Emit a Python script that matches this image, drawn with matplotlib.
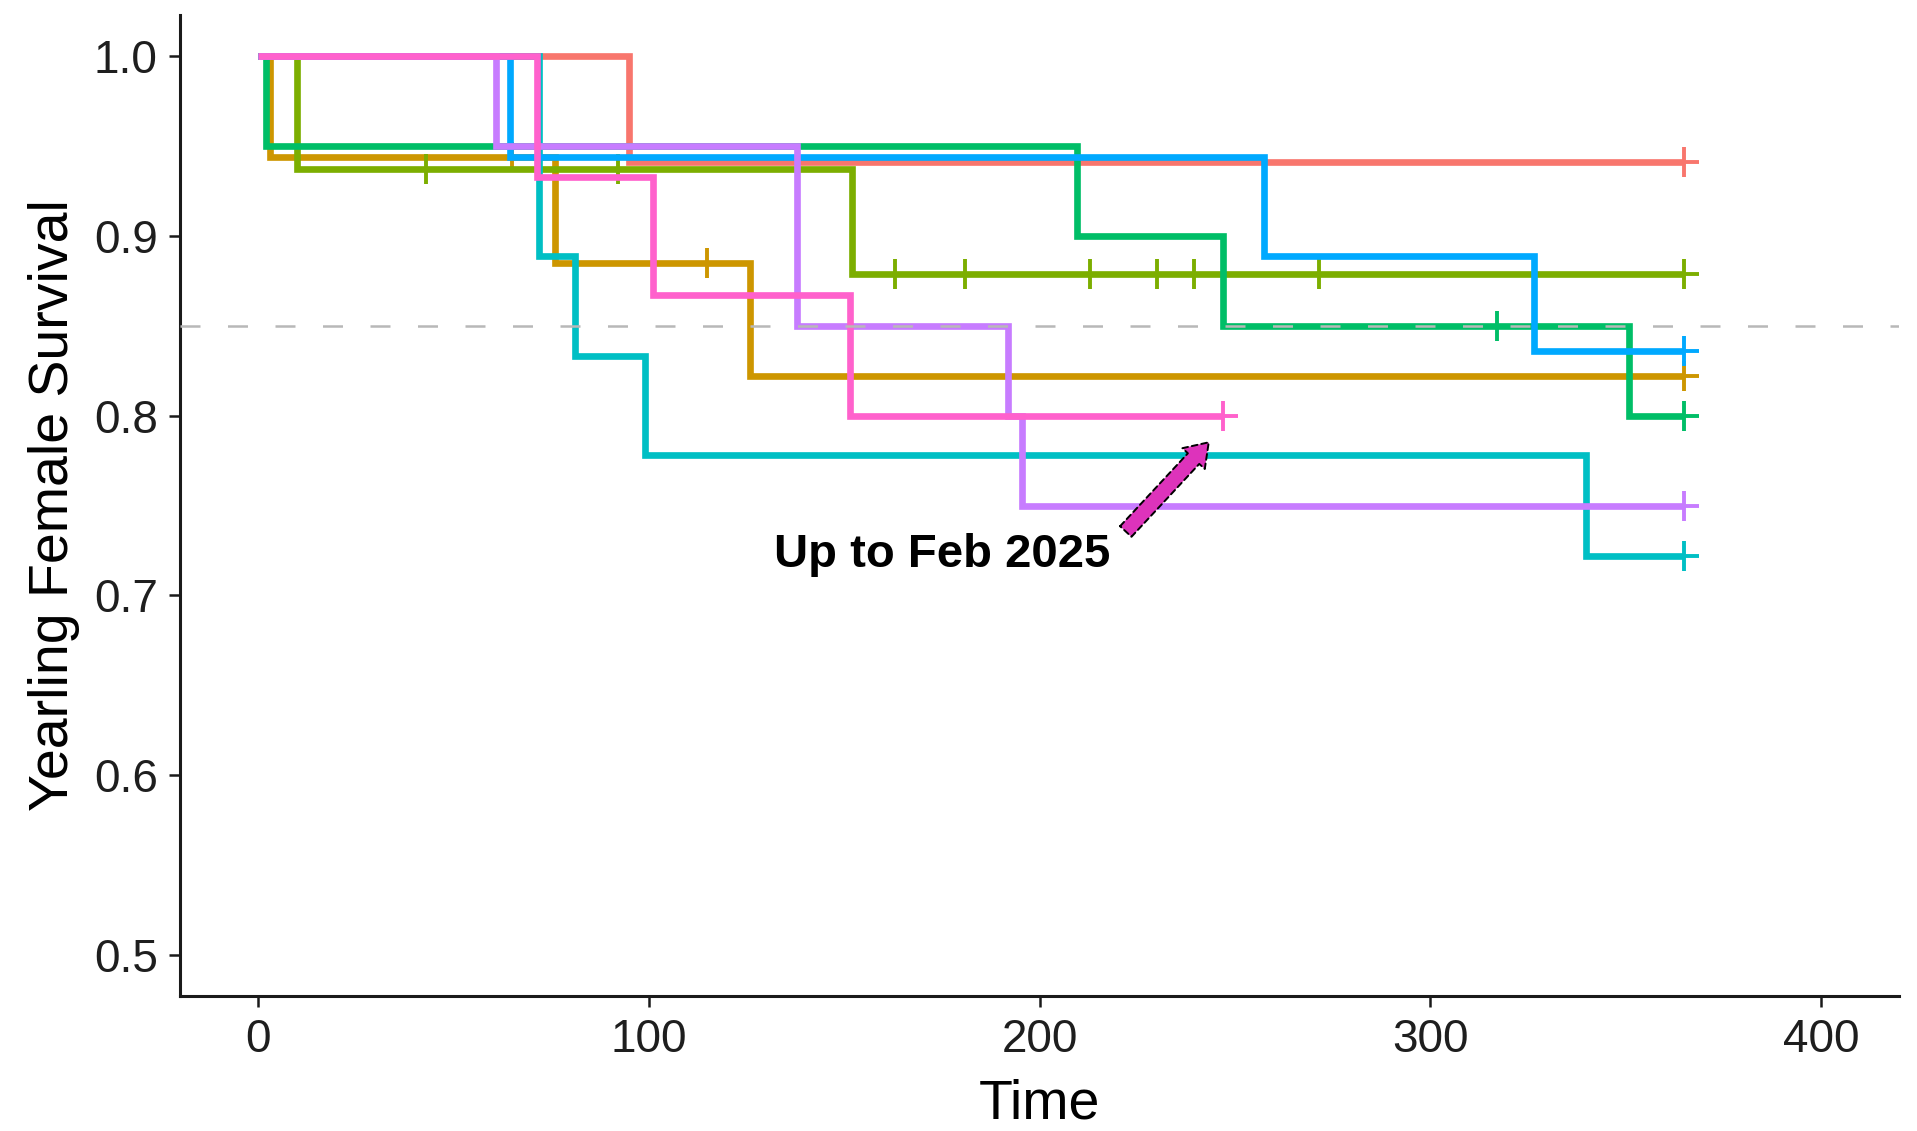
import matplotlib
matplotlib.use("Agg")
import matplotlib.pyplot as plt
from matplotlib.patches import FancyArrowPatch

plt.rcParams['font.family'] = ['Liberation Sans', 'DejaVu Sans']

# ---- data ----
group_colors = ['#F8766D', '#CD9600', '#7CAE00', '#00BE67',
                '#00BFC4', '#00A9FF', '#C77CFF', '#FF61CC']

red_times = [0, 95]
red_surv = [1.0, 0.941]
red_censor = [365]

gold_times = [0, 3, 76, 126]
gold_surv = [1.0, 0.944, 0.885, 0.822]
gold_censor = [65, 115, 365]

olive_times = [0, 10, 152]
olive_surv = [1.0, 0.9375, 0.879]
olive_censor = [43, 92, 163, 181, 213, 230, 239.5, 271.5, 365]

green_times = [0, 2, 209.5, 247, 351]
green_surv = [1.0, 0.95, 0.90, 0.85, 0.80]
green_censor = [317, 365]

cyan_times = [0, 72, 81, 99, 340]
cyan_surv = [1.0, 0.889, 0.833, 0.778, 0.722]
cyan_censor = [365]

blue_times = [0, 64.5, 257.5, 326.5]
blue_surv = [1.0, 0.944, 0.889, 0.836]
blue_censor = [365]

purple_times = [0, 61, 138, 192, 195.5]
purple_surv = [1.0, 0.95, 0.85, 0.80, 0.75]
purple_censor = [365]

pink_times = [0, 71.3, 101, 151.5]
pink_surv = [1.0, 0.933, 0.867, 0.80]
pink_censor = [247]

end_times = [365, 365, 365, 365, 365, 365, 365, 247]

reference_level = 0.85
x_ticks = [0, 100, 200, 300, 400]
y_ticks = [0.5, 0.6, 0.7, 0.8, 0.9, 1.0]
annotation_text = 'Up to Feb 2025'
arrow_tail = (221.6, 0.7344)
arrow_head = (243.8, 0.7863)
text_pos = (175.0, 0.716)

series = [
    (red_times, red_surv, red_censor),
    (gold_times, gold_surv, gold_censor),
    (olive_times, olive_surv, olive_censor),
    (green_times, green_surv, green_censor),
    (cyan_times, cyan_surv, cyan_censor),
    (blue_times, blue_surv, blue_censor),
    (purple_times, purple_surv, purple_censor),
    (pink_times, pink_surv, pink_censor),
]

# ---- figure ----
fig = plt.figure(figsize=(19.17, 11.31), dpi=100)
ax = fig.add_axes([180 / 1917, (1131 - 996) / 1131, (1899 - 180) / 1917, (996 - 15) / 1131])

for (t, s, c), color, end in zip(series, group_colors, end_times):
    xs = list(t) + [end]
    ys = list(s) + [s[-1]]
    ax.step(xs, ys, where='post', color=color, lw=4.8, solid_capstyle='butt',
            solid_joinstyle='miter')
    # censor marks: value of the step function at each censor time
    cy = []
    for ct in c:
        v = s[0]
        for ti, si in zip(t, s):
            if ti <= ct:
                v = si
        cy.append(v)
    ax.plot(c, cy, linestyle='none', marker='+', markersize=21, mew=2.8, color=color)

ax.axhline(reference_level, color='#B8B8B8', lw=1.8, dashes=(8, 11), zorder=5)

arrow = FancyArrowPatch(arrow_tail, arrow_head,
                        arrowstyle='simple,head_width=0.55,head_length=0.4,tail_width=0.28',
                        mutation_scale=40, facecolor='#DD33BB', edgecolor='black',
                        linestyle=(0, (3, 2)), linewidth=1.4, zorder=6)
ax.add_patch(arrow)
ax.text(text_pos[0], text_pos[1], annotation_text, ha='center', va='baseline',
        fontsize=34, fontweight='bold', color='black', zorder=7)

ax.set_xlim(-20, 420)
ax.set_ylim(0.477, 1.023)
ax.set_xticks(x_ticks)
ax.set_xticklabels([str(v) for v in x_ticks])
ax.set_yticks(y_ticks)
ax.set_yticklabels([f'{v:.1f}' for v in y_ticks])

for side in ['top', 'right']:
    ax.spines[side].set_visible(False)
for side in ['left', 'bottom']:
    ax.spines[side].set_linewidth(2.2)
    ax.spines[side].set_color('#1A1A1A')

ax.tick_params(axis='both', direction='out', length=8, width=1.8, color='#1A1A1A',
               labelsize=33, labelcolor='#1E1E1E')
ax.tick_params(axis='x', pad=8)
ax.tick_params(axis='y', pad=8)

ax.set_xlabel('Time', fontsize=40, color='black', labelpad=12)
ax.set_ylabel('Yearling Female Survival', fontsize=40, color='black', labelpad=10)

fig.savefig('out.png', dpi=100, facecolor='white')
